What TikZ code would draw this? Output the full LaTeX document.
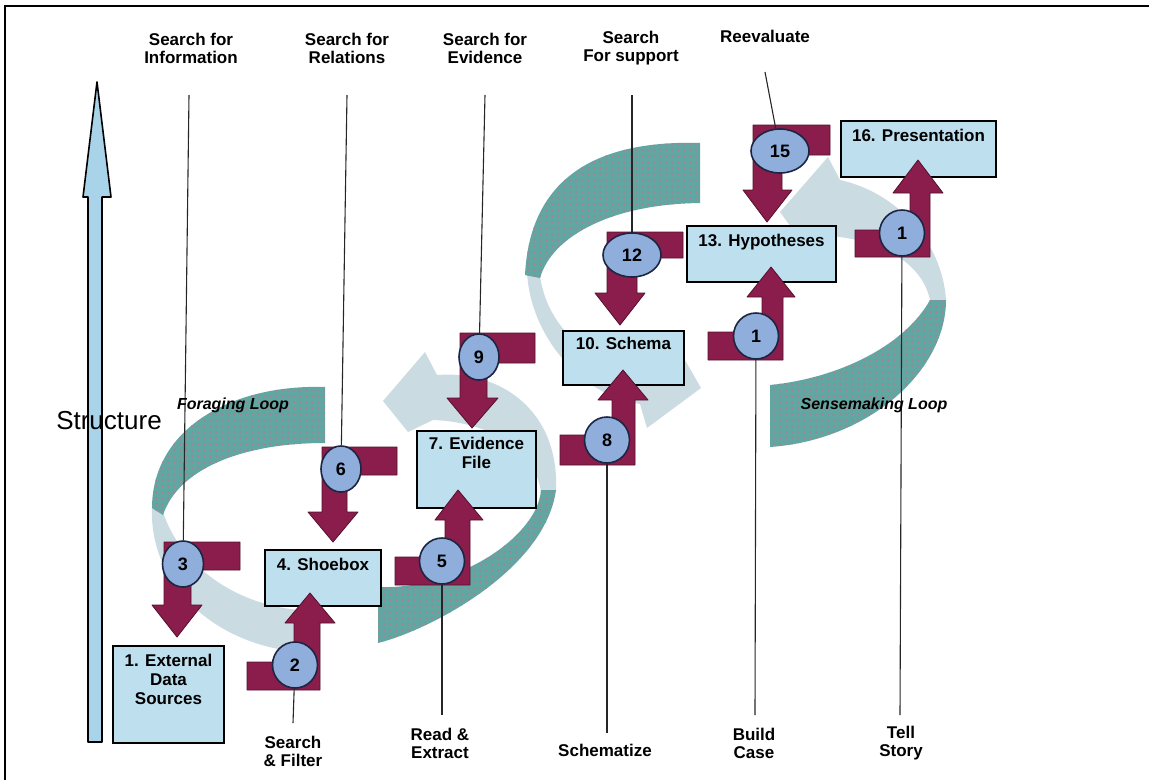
\documentclass[tikz,border=0pt]{standalone}
\usepackage{fontspec}
\setmainfont{Liberation Sans}
\usetikzlibrary{shapes.geometric,patterns.meta}

\definecolor{boxblue}{HTML}{BEDFEE}
\definecolor{stepblue}{HTML}{8FAEDC}
\definecolor{navy}{HTML}{1C2541}
\definecolor{maroon}{HTML}{8A1D4B}
\definecolor{loopteal}{HTML}{62A6A2}
\definecolor{loopback}{HTML}{CADBE2}
\definecolor{speck}{HTML}{B27A92}
\definecolor{structblue}{HTML}{A9D3E8}

\begin{document}
\begin{tikzpicture}[
    x=1pt, y=-1pt,
    box/.style={draw=black, line width=1.6pt, fill=boxblue, inner sep=0pt},
    boxtxt/.style={anchor=north, inner sep=0pt, yshift=-9pt, align=center,
        font=\bfseries\fontsize{17}{19}\selectfont},
    stepno/.style={ellipse, draw=navy, line width=1.6pt, fill=stepblue,
        inner sep=0pt, minimum width=45pt, minimum height=46pt,
        font=\bfseries\fontsize{18}{18}\selectfont},
    twodigit/.style={minimum width=58pt, minimum height=44pt},
    lbl/.style={align=center, inner sep=0pt, font=\bfseries\fontsize{17}{18}\selectfont},
    guide/.style={line width=1.1pt, black!85},
    turnarrow/.style={fill=maroon, draw=maroon!60!black, line width=0.8pt, line join=round},
    front/.style={fill=loopteal, postaction={pattern={Dots[distance=6pt,radius=1pt]},
        pattern color=speck}},
    back/.style={fill=loopback},
    looplbl/.style={inner sep=0pt, font=\bfseries\itshape\fontsize{16}{16}\selectfont}
]
    \useasboundingbox (0,0) rectangle (1149,780);
    \draw[line width=1.5pt] (5,780) -- (5,6) -- (1149,6);

    % foraging loop
    \fill[back] (152,505) .. controls (148,585) and (215,645) .. (300,652) -- (300,610)
        .. controls (235,605) and (180,565) .. (163,512) -- cycle;
    \fill[front] (325,387) .. controls (230,384) and (152,430) .. (152,508) -- (163,515)
        .. controls (178,470) and (240,443) .. (325,443) -- cycle;
    % loop round the evidence file
    \fill[back] (556,492) .. controls (560,410) and (500,370) .. (437,375) -- (425,352)
        -- (383,401) -- (408,432) -- (433,420) .. controls (490,422) and (535,450) .. (541,492) -- cycle;
    \fill[front] (378,643) .. controls (430,630) and (545,570) .. (556,490) -- (541,490)
        .. controls (538,535) and (460,590) .. (378,587) -- cycle;
    % loop round the schema
    \fill[back] (527,272) .. controls (530,335) and (580,395) .. (640,404) -- (647,428)
        -- (701,388) -- (678,348) -- (640,368) .. controls (590,362) and (548,330) .. (540,276) -- cycle;
    \fill[front] (700,143) .. controls (600,140) and (530,175) .. (525,275) -- (540,278)
        .. controls (552,236) and (612,204) .. (700,203) -- cycle;
    % sensemaking loop
    \fill[back] (946,300) .. controls (942,240) and (895,192) .. (840,180) -- (828,157)
        -- (780,212) -- (812,256) -- (830,236) .. controls (880,240) and (922,262) .. (930,300) -- cycle;
    \fill[front] (770,385) .. controls (840,378) and (905,345) .. (930,300) -- (946,300)
        .. controls (946,370) and (870,440) .. (770,447) -- cycle;

    % structure axis
    \draw[fill=structblue, line width=1.6pt, line join=round] (88,742) -- (88,197) -- (83,197)
        -- (97,82) -- (111,197) -- (102,197) -- (102,742) -- cycle;
    \node[inner sep=0pt, font=\fontsize{26}{26}\selectfont] (structure) at (109,421) {Structure};

    % boxes
    \node[box, minimum width=111pt, minimum height=97pt,
        label={[boxtxt]north:1. External\\Data\\Sources}] (ext) at (168.5,694.5) {};
    \node[box, minimum width=116pt, minimum height=56pt,
        label={[boxtxt]north:4. Shoebox}] (shoebox) at (323,578) {};
    \node[box, minimum width=119pt, minimum height=77pt,
        label={[boxtxt, yshift=2pt]north:7. Evidence\\File}] (evid) at (476.5,469.5) {};
    \node[box, minimum width=121pt, minimum height=54pt,
        label={[boxtxt, yshift=2pt]north:10. Schema}] (schema) at (623.5,358) {};
    \node[box, minimum width=149pt, minimum height=56pt,
        label={[boxtxt]north:13. Hypotheses}] (hypo) at (761.5,254) {};
    \node[box, minimum width=155pt, minimum height=56pt,
        label={[boxtxt]north:16. Presentation}] (pres) at (918.5,149) {};

    % turning arrows, down
    \draw[turnarrow] (240,542) -- (164,542) -- (164,605) -- (152,605) -- (177,637) -- (202,605)
        -- (191,605) -- (191,570) -- (240,570) -- cycle;
    \draw[turnarrow] (397,447) -- (322,447) -- (322,512) -- (308,512) -- (333,542) -- (358,512)
        -- (347,512) -- (347,475) -- (397,475) -- cycle;
    \draw[turnarrow] (535,333) -- (460,333) -- (460,398) -- (447,398) -- (472,428) -- (498,398)
        -- (487,398) -- (487,363) -- (535,363) -- cycle;
    \draw[turnarrow] (683,232) -- (607,232) -- (607,293) -- (595,293) -- (620,325) -- (645,293)
        -- (637,293) -- (637,258) -- (683,258) -- cycle;
    \draw[turnarrow] (830,125) -- (753,125) -- (753,190) -- (743,190) -- (767,222) -- (792,190)
        -- (782,190) -- (782,155) -- (830,155) -- cycle;
    % turning arrows, up
    \draw[turnarrow] (247,690) -- (320,690) -- (320,623) -- (335,623) -- (310,593) -- (285,623)
        -- (294,623) -- (294,662) -- (247,662) -- cycle;
    \draw[turnarrow] (395,585) -- (470,585) -- (470,520) -- (483,520) -- (458,490) -- (435,520)
        -- (445,520) -- (445,557) -- (395,557) -- cycle;
    \draw[turnarrow] (560,465) -- (635,465) -- (635,400) -- (648,400) -- (623,370) -- (598,400)
        -- (612,400) -- (612,435) -- (560,435) -- cycle;
    \draw[turnarrow] (708,360) -- (783,360) -- (783,297) -- (795,297) -- (771,267) -- (747,297)
        -- (762,297) -- (762,332) -- (708,332) -- cycle;
    \draw[turnarrow] (855,257) -- (930,257) -- (930,193) -- (943,193) -- (918,160) -- (893,193)
        -- (910,193) -- (910,230) -- (855,230) -- cycle;

    % steps
    \node[stepno, minimum width=41pt] (s3) at (183,564) {3};
    \node[stepno] (s2) at (295,665) {2};
    \node[stepno, minimum width=40pt] (s6) at (341,469) {6};
    \node[stepno] (s5) at (442,561) {5};
    \node[stepno, minimum width=40pt] (s9) at (479,357) {9};
    \node[stepno] (s8) at (607,440) {8};
    \node[stepno, twodigit] (s12) at (632,255) {12};
    \node[stepno] (s11) at (756,336) {1};
    \node[stepno] (s14) at (902,233) {1};
    \node[stepno, twodigit] (s15) at (780,151) {15};

    % labels
    \node[lbl] (info) at (191,48) {Search for\\Information};
    \node[lbl] (rel) at (347,48) {Search for\\Relations};
    \node[lbl] (evi) at (485,48) {Search for\\Evidence};
    \node[lbl] (supp) at (631,48) {Search\\For support};
    \node[lbl] (reev) at (765,36) {Reevaluate};
    \node[lbl] (filter) at (293,751) {Search\\\& Filter};
    \node[lbl] (extract) at (440,743) {Read \&\\Extract};
    \node[lbl] (schematize) at (605,750) {Schematize};
    \node[lbl] (build) at (754,743) {Build\\Case};
    \node[lbl] (tell) at (901,743) {Tell\\Story};

    \coordinate (tInfo) at (189,95);
    \coordinate (tRel) at (347,95);
    \coordinate (tEvi) at (485,95);
    \coordinate (tSupp) at (632,95);
    \coordinate (tReev) at (765,72);
    \coordinate (bFilter) at (293,723);
    \coordinate (bExtract) at (442,715);
    \coordinate (bSchem) at (607,733);
    \coordinate (bBuild) at (755,715);
    \coordinate (bTell) at (900,715);
    \draw[guide] (tInfo) -- (s3);
    \draw[guide] (tRel) -- (s6);
    \draw[guide] (tEvi) -- (s9);
    \draw[guide] (tSupp) -- (s12);
    \draw[guide] (tReev) -- (s15);
    \draw[guide] (s2) -- (bFilter);
    \draw[guide] (s5) -- (bExtract);
    \draw[guide] (s8) -- (bSchem);
    \draw[guide] (s11) -- (bBuild);
    \draw[guide] (s14) -- (bTell);

    \node[looplbl] (forage) at (233,405) {Foraging Loop};
    \node[looplbl] (sense) at (874,405) {Sensemaking Loop};
\end{tikzpicture}
\end{document}
